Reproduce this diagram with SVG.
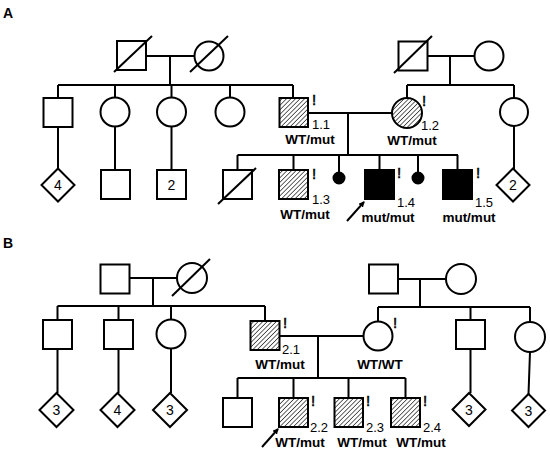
<svg xmlns="http://www.w3.org/2000/svg" width="550" height="452" viewBox="0 0 550 452">
<style>
.ln{stroke:#000;stroke-width:2;fill:none}
.sh{stroke:#000;stroke-width:2;fill:#fff}
.ht{stroke:#000;stroke-width:2;fill:url(#hatch)}
.bk{stroke:#000;stroke-width:2;fill:#000}
.sl{stroke:#000;stroke-width:2}
.t{font-family:"Liberation Sans",Arial,sans-serif;fill:#000}
.g{font-size:13.5px;font-weight:bold;text-anchor:middle}
.n{font-size:13px}
.x{font-size:15px;stroke:#000;stroke-width:0.5}
.d{font-size:14px;text-anchor:middle}
.p{font-size:14px;font-weight:bold}
</style>
<defs>
<pattern id="hatch" patternUnits="userSpaceOnUse" width="3.2" height="3.2" patternTransform="rotate(45)">
<rect width="3.2" height="3.2" fill="#fff"/>
<line x1="0" y1="0" x2="0" y2="3.2" stroke="#222" stroke-width="1.4"/>
</pattern>
<marker id="ah" markerWidth="6" markerHeight="6" refX="5" refY="3" orient="auto" markerUnits="userSpaceOnUse">
<path d="M0,0 L6,3 L0,6 z" fill="#000"/>
</marker>
</defs>
<rect width="550" height="452" fill="#fff"/>
<text class="t p" x="3" y="18">A</text>
<text class="t p" x="3" y="248">B</text>

<g id="connectors">
<path class="ln" d="M146,56H194.5M170,56V85M58,85H293M58,85V98M115,85V97.5M171.5,85V97.5M230,85V97.5M293,85V98"/>
<path class="ln" d="M428,56H474.5M450,56V85M407,85H514M407,85V98M514,85V98"/>
<path class="ln" d="M58,127V169M115,126.5V170M171.5,126.5V170M514,126V169"/>
<path class="ln" d="M308,113H392M348,113V155M237.5,155H458M237.5,155V170M293.5,155V170M339,155V172M379.5,155V170M418,155V172M457.5,155V170"/>
<line class="ln" x1="347" y1="221" x2="364" y2="202" marker-end="url(#ah)"/>
<path class="ln" d="M130,278H177M153,278V306M57.5,306H265M57.5,306V320M118.5,306V320M171,306V319.5M265,306V321"/>
<path class="ln" d="M398,279H446M420,279V307M378,307H530M378,307V321.5M470.5,307V320M530,307V322"/>
<path class="ln" d="M57.5,349V393M118.5,349V393M171,348.5V393M470.5,349V393M530,352L528.5,394"/>
<path class="ln" d="M279.5,336H363.5M318,336V378M237.5,378H405.5M237.5,378V398M293.5,378V398M348.5,378V398M405.5,378V398"/>
<line class="ln" x1="262" y1="447" x2="278" y2="429" marker-end="url(#ah)"/>
</g>

<g id="A-gp1"><rect class="sh" x="117" y="41" width="29" height="29"/><line class="sl" x1="114" y1="72" x2="152" y2="36"/></g>
<g id="A-gm1"><circle class="sh" cx="209" cy="56" r="14.5"/><line class="sl" x1="190" y1="72" x2="228" y2="36"/></g>
<g id="A-gp2"><rect class="sh" x="398.5" y="41.5" width="29" height="29"/><line class="sl" x1="394" y1="73" x2="432" y2="36"/></g>
<g id="A-gm2"><circle class="sh" cx="489" cy="56" r="14.5"/></g>
<g id="A-c1"><rect class="sh" x="43.5" y="98" width="29" height="29"/></g>
<g id="A-c2"><circle class="sh" cx="115" cy="112" r="14.5"/></g>
<g id="A-c3"><circle class="sh" cx="171.5" cy="112" r="14.5"/></g>
<g id="A-c4"><circle class="sh" cx="230" cy="112" r="14.5"/></g>
<g id="A-1-1"><rect class="ht" x="279.5" y="98" width="28.5" height="29"/>
<text class="t x" x="312" y="105">!</text><text class="t n" x="312" y="128.5">1.1</text><text class="t g" x="310" y="143.5">WT/mut</text></g>
<g id="A-1-2"><circle class="ht" cx="407" cy="113" r="15"/>
<text class="t x" x="422" y="106">!</text><text class="t n" x="421" y="129.5">1.2</text><text class="t g" x="412" y="144.5">WT/mut</text></g>
<g id="A-c6"><circle class="sh" cx="514" cy="112" r="14"/></g>
<g id="A-d4"><path class="sh" d="M58,168.5L74.5,185L58,201.5L41.5,185Z"/><text class="t d" x="58" y="190">4</text></g>
<g id="A-s1"><rect class="sh" x="101" y="170" width="29" height="29"/></g>
<g id="A-s2"><rect class="sh" x="157" y="170" width="29" height="29"/><text class="t d" x="171.5" y="190">2</text></g>
<g id="A-d2"><path class="sh" d="M513,168.5L529.5,185L513,201.5L496.5,185Z"/><text class="t d" x="513" y="190">2</text></g>
<g id="A-dec"><rect class="sh" x="223" y="170" width="29" height="29"/><line class="sl" x1="218" y1="204" x2="256" y2="168"/></g>
<g id="A-1-3"><rect class="ht" x="279" y="170" width="29" height="29"/>
<text class="t x" x="312" y="179">!</text><text class="t n" x="312" y="203.5">1.3</text><text class="t g" x="305" y="218.5">WT/mut</text></g>
<g id="A-m1"><circle class="bk" cx="339" cy="178" r="5.5"/></g>
<g id="A-1-4"><rect class="bk" x="365" y="170" width="29" height="29"/>
<text class="t x" x="397" y="178">!</text><text class="t n" x="397" y="206.5">1.4</text><text class="t g" x="388" y="221.5">mut/mut</text></g>
<g id="A-m2"><circle class="bk" cx="418" cy="178" r="5.5"/></g>
<g id="A-1-5"><rect class="bk" x="443" y="170" width="29" height="29"/>
<text class="t x" x="476" y="178">!</text><text class="t n" x="475" y="206.5">1.5</text><text class="t g" x="469" y="221.5">mut/mut</text></g>

<g id="B-gp1"><rect class="sh" x="100.5" y="264.5" width="29" height="29"/></g>
<g id="B-gm1"><circle class="sh" cx="192" cy="278" r="15"/><line class="sl" x1="172" y1="296" x2="210" y2="259"/></g>
<g id="B-gp2"><rect class="sh" x="369" y="264.5" width="29" height="29"/></g>
<g id="B-gm2"><circle class="sh" cx="461" cy="279" r="15"/></g>
<g id="B-c1"><rect class="sh" x="43" y="320" width="29" height="29"/></g>
<g id="B-c2"><rect class="sh" x="104" y="320" width="29" height="29"/></g>
<g id="B-c3"><circle class="sh" cx="171" cy="334" r="14.5"/></g>
<g id="B-2-1"><rect class="ht" x="250.5" y="321" width="29" height="29"/>
<text class="t x" x="283" y="328">!</text><text class="t n" x="282" y="354">2.1</text><text class="t g" x="280" y="369">WT/mut</text></g>
<g id="B-ww"><circle class="sh" cx="378" cy="336" r="14.5"/>
<text class="t x" x="393" y="328">!</text><text class="t g" x="380" y="369">WT/WT</text></g>
<g id="B-c5"><rect class="sh" x="456" y="320" width="29" height="29"/></g>
<g id="B-c6"><circle class="sh" cx="530" cy="337" r="15"/></g>
<g id="B-d1"><path class="sh" d="M56.5,393L73.5,410L56.5,427L39.5,410Z"/><text class="t d" x="56.5" y="415">3</text></g>
<g id="B-d2"><path class="sh" d="M117.5,393L134.5,410L117.5,427L100.5,410Z"/><text class="t d" x="117.5" y="415">4</text></g>
<g id="B-d3"><path class="sh" d="M170,393L187,410L170,427L153,410Z"/><text class="t d" x="170" y="415">3</text></g>
<g id="B-d4"><path class="sh" d="M469,393L485.5,409.5L469,426L452.5,409.5Z"/><text class="t d" x="469" y="414.5">3</text></g>
<g id="B-d5"><path class="sh" d="M528.5,394L545,410.5L528.5,427L512,410.5Z"/><text class="t d" x="528.5" y="415.5">3</text></g>
<g id="B-s"><rect class="sh" x="223" y="398" width="29" height="29"/></g>
<g id="B-2-2"><rect class="ht" x="279" y="398" width="29" height="29"/>
<text class="t x" x="311" y="406">!</text><text class="t n" x="310" y="431.5">2.2</text><text class="t g" x="300" y="446.5">WT/mut</text></g>
<g id="B-2-3"><rect class="ht" x="334.5" y="398" width="28.5" height="29"/>
<text class="t x" x="366" y="406">!</text><text class="t n" x="366" y="431.5">2.3</text><text class="t g" x="362" y="446.5">WT/mut</text></g>
<g id="B-2-4"><rect class="ht" x="391" y="398" width="29" height="29"/>
<text class="t x" x="423" y="406">!</text><text class="t n" x="423" y="431.5">2.4</text><text class="t g" x="421" y="446.5">WT/mut</text></g>
</svg>
